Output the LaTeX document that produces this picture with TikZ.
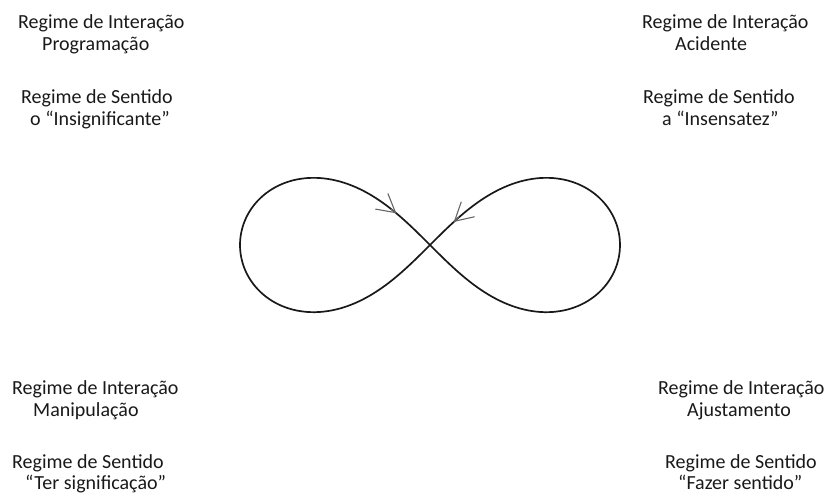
\documentclass[tikz,border=0pt]{standalone}
\usepackage{fontspec}
\setmainfont{Carlito}
\usetikzlibrary{arrows.meta}

\tikzset{
    regime/.style={anchor=base west, inner sep=0pt, font=\fontsize{20}{22}\selectfont, text=black!90},
    loop curve/.style={line width=1.7pt, black!90},
    flow tip/.style={-{Straight Barb[length=18pt, width=20pt, line width=1.1pt]}, black!60, line width=1.1pt},
}
% half width of the lemniscate
\newcommand{\lemA}{190}
% point of the lemniscate at parameter #2
\newcommand{\lempoint}[2]{\coordinate (#1) at ({\lemA*cos(#2)/(1+sin(#2)^2)},{\lemA*sin(#2)*cos(#2)/(1+sin(#2)^2)});}

\begin{document}
\begin{tikzpicture}[x=1pt, y=1pt]

    \useasboundingbox (0,0) rectangle (827,-495);

    % top left: programming
    \node[regime] (intP) at (18,-29) {Regime de Interação};
    \node[regime] (progP) at (42,-51) {Programação};
    \node[regime] (senP) at (21,-103) {Regime de Sentido};
    \node[regime] (insP) at (30,-125) {o “Insignificante”};

    % top right: accident
    \node[regime] (intA) at (642,-29) {Regime de Interação};
    \node[regime] (aciA) at (675,-51) {Acidente};
    \node[regime] (senA) at (643,-103) {Regime de Sentido};
    \node[regime] (insA) at (662,-125) {a “Insensatez”};

    % bottom left: manipulation
    \node[regime] (intM) at (12,-394) {Regime de Interação};
    \node[regime] (manM) at (33,-416) {Manipulação};
    \node[regime] (senM) at (12,-468) {Regime de Sentido};
    \node[regime] (sigM) at (25,-489) {“Ter significação”};

    % bottom right: adjustment
    \node[regime] (intJ) at (658,-394) {Regime de Interação};
    \node[regime] (ajuJ) at (687,-416) {Ajustamento};
    \node[regime] (senJ) at (665,-468) {Regime de Sentido};
    \node[regime] (fazJ) at (678,-489) {“Fazer sentido”};

    % lemniscate with its two arrows towards the crossing
    \begin{scope}[shift={(430,-245)}]
        \draw[loop curve] plot[domain=0:360, samples=241, smooth, variable=\t]
            ({\lemA*cos(\t)/(1+sin(\t)^2)},{\lemA*sin(\t)*cos(\t)/(1+sin(\t)^2)}) -- cycle;
        \lempoint{preR}{73}
        \lempoint{tipR}{76}
        \lempoint{preL}{247.5}
        \lempoint{tipL}{250.5}
        \draw[flow tip] (preR) -- (tipR);
        \draw[flow tip] (preL) -- (tipL);
    \end{scope}

\end{tikzpicture}
\end{document}
